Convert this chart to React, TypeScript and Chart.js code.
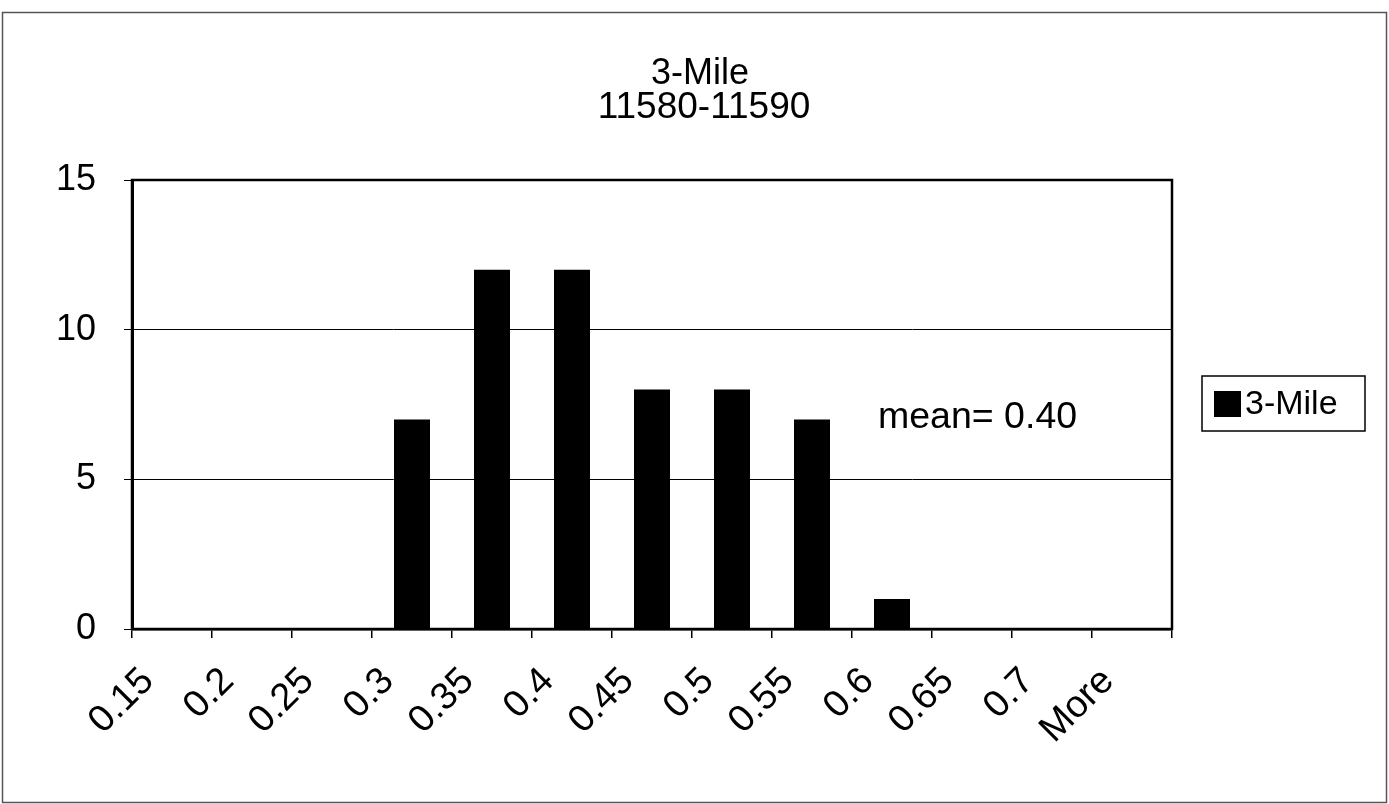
import React, { useEffect, useRef } from "react";
import { Chart, registerables } from "chart.js";

Chart.register(...registerables);

const categories = ["0.15", "0.2", "0.25", "0.3", "0.35", "0.4", "0.45", "0.5", "0.55", "0.6", "0.65", "0.7", "More"];
const frequency = [0, 0, 0, 7, 12, 12, 8, 8, 7, 1, 0, 0, 0];
const yMin = 0;
const yMax = 15;
const yStep = 5;
const seriesName = "3-Mile";
const titleLines = ["3-Mile", "11580-11590"];
const meanLabel = "mean= 0.40";

const FONT = '"Liberation Sans", Arial, Helvetica, sans-serif';

const decor = {
  id: "decor",
  beforeDraw(chart: any) {
    const ctx = chart.ctx;
    ctx.save();
    ctx.fillStyle = "#fff";
    ctx.fillRect(0, 0, chart.width, chart.height);
    ctx.restore();
  },
  afterDraw(chart: any) {
    const ctx = chart.ctx;
    const { left, top, right, bottom } = chart.chartArea;
    ctx.save();
    // outer chart border
    ctx.strokeStyle = "#555";
    ctx.lineWidth = 1.5;
    ctx.strokeRect(2.5, 12.5, 1384, 790);
    // plot area border
    ctx.strokeStyle = "#000";
    ctx.lineWidth = 2.5;
    ctx.strokeRect(left, top, right - left, bottom - top);
    // title
    ctx.fillStyle = "#000";
    ctx.font = `36px ${FONT}`;
    ctx.textAlign = "center";
    ctx.textBaseline = "middle";
    ctx.fillText(titleLines[0], 700, 74);
    ctx.font = `37px ${FONT}`;
    ctx.fillText(titleLines[1], 704, 108);
    // mean annotation
    ctx.font = `37.5px ${FONT}`;
    ctx.textAlign = "left";
    ctx.fillText(meanLabel, 878, 418);
    // legend
    ctx.lineWidth = 1.5;
    ctx.strokeStyle = "#000";
    ctx.strokeRect(1202, 376, 163, 55);
    ctx.fillStyle = "#000";
    ctx.fillRect(1214, 391, 27, 26);
    ctx.font = `34px ${FONT}`;
    ctx.fillText(seriesName, 1245, 405);
    ctx.restore();
  },
};

export default function App() {
  const ref = useRef<HTMLCanvasElement | null>(null);
  useEffect(() => {
    document.body.style.margin = "0";
    const canvas = ref.current;
    if (!canvas) return;
    const chart = new Chart(canvas, {
      type: "bar",
      data: {
        labels: categories,
        datasets: [
          {
            label: seriesName,
            data: frequency,
            backgroundColor: "#000",
            borderWidth: 0,
            barPercentage: 0.45,
            categoryPercentage: 1,
          },
        ],
      },
      options: {
        responsive: false,
        animation: false,
        devicePixelRatio: 1,
        layout: { padding: { top: 180, right: 217, left: 0, bottom: 0 } },
        plugins: {
          legend: { display: false },
          title: { display: false },
          tooltip: { enabled: false },
        },
        scales: {
          x: {
            offset: true,
            grid: {
              display: true,
              offset: true,
              drawOnChartArea: false,
              drawTicks: true,
              tickLength: 9,
              color: "#000",
              lineWidth: 1.5,
            },
            border: { display: true, color: "#000", width: 2.5 },
            ticks: {
              autoSkip: false,
              minRotation: 45,
              maxRotation: 45,
              labelOffset: -24,
              padding: 21,
              color: "#000",
              font: { family: FONT, size: 38 },
            },
            afterFit(scale: any) {
              scale.height = 175;
            },
          },
          y: {
            min: yMin,
            max: yMax,
            ticks: {
              stepSize: yStep,
              padding: 28,
              color: "#000",
              font: { family: FONT, size: 36 },
            },
            grid: {
              color: "#000",
              lineWidth: 1,
              tickLength: 8,
              drawTicks: true,
            },
            border: { display: true, color: "#000", width: 3 },
            afterFit(scale: any) {
              scale.width = 132;
            },
          },
        },
      },
      plugins: [decor],
    });
    return () => chart.destroy();
  }, []);
  return (
    <div style={{ width: 1389, height: 804 }}>
      <canvas ref={ref} width={1389} height={804} style={{ display: "block" }} />
    </div>
  );
}
